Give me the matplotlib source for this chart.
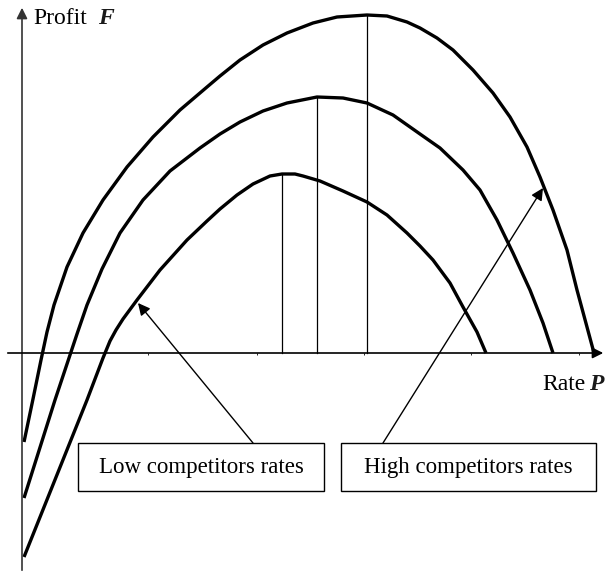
import matplotlib.pyplot as plt
from matplotlib.patches import Rectangle

plt.rcParams['font.family'] = ['Liberation Serif', 'DejaVu Serif']

# Curvas de beneficio (tasa P, beneficio F)
rate_high = [2, 11, 19, 25, 32, 45, 61, 81, 105, 131, 158, 185, 198, 218, 241, 265, 291,
             315, 345, 365, 385, 398, 415, 431, 451, 471, 488, 505, 518, 531, 545, 555,
             565, 572]
profit_high = [-89, -46, -7, 21, 48, 86, 120, 153, 186, 216, 243, 266, 277, 293, 308, 320,
               330, 336, 338, 337, 331, 325, 315, 303, 283, 260, 236, 206, 176, 143, 103,
               63, 26, 0]

rate_mid = [2, 33, 48, 55, 65, 80, 98, 121, 148, 178, 198, 218, 241, 265, 295, 321, 345,
            371, 398, 418, 441, 458, 475, 491, 508, 521, 531]
profit_mid = [-145, -47, -2, 19, 48, 84, 120, 153, 182, 205, 219, 231, 242, 250, 256, 255,
              250, 238, 219, 205, 183, 163, 133, 100, 63, 30, 0]

rate_low = [2, 65, 81, 88, 94, 101, 115, 138, 165, 185, 198, 215, 231, 248, 260, 273, 281,
            298, 321, 345, 365, 385, 398, 411, 428, 441, 455, 464]
profit_low = [-204, -47, -5, 12, 23, 34, 53, 83, 113, 132, 144, 158, 169, 177, 179, 179,
              177, 172, 162, 151, 138, 120, 107, 93, 70, 46, 21, 0]

curvas = [(rate_high, profit_high), (rate_mid, profit_mid), (rate_low, profit_low)]
x_ticks = [126, 235, 342, 449, 557]

fig = plt.figure(figsize=(6.06, 5.73), dpi=100)
ax = fig.add_axes([0, 0, 1, 1])
ax.set_xlim(-22, 584)
ax.set_ylim(-220, 353)
ax.axis('off')

# Ejes con flechas
ax.annotate('', xy=(0, 348), xytext=(0, -220),
            arrowprops=dict(arrowstyle='-|>', color='#333333', lw=1.2, mutation_scale=16))
ax.annotate('', xy=(584, 0), xytext=(-17, 0),
            arrowprops=dict(arrowstyle='-|>', color='black', lw=1.2, mutation_scale=16))
ax.vlines(x_ticks, -2, 0, color='black', lw=0.6)

# Curvas y lineas verticales en el maximo
for r, p in curvas:
    ax.plot(r, p, color='black', lw=2.4, solid_capstyle='butt', solid_joinstyle='round')
    i = p.index(max(p))
    ax.plot([r[i], r[i]], [0, p[i]], color='black', lw=0.9)

# Etiquetas de los ejes
ax.text(11, 334, 'Profit', fontsize=17, ha='left', va='center')
ax.text(76, 335, 'F', fontsize=17, ha='left', va='center', fontweight='bold',
        fontstyle='italic', color='#1a1a1a')
ax.text(564, -32, 'Rate', fontsize=17, ha='right', va='center')
ax.text(567, -32, 'P', fontsize=17, ha='left', va='center', fontweight='bold',
        fontstyle='italic', color='#1a1a1a')

# Cajas de texto
ax.add_patch(Rectangle((56, -138), 246, 48, fill=False, lw=1, ec='black'))
ax.add_patch(Rectangle((319, -138), 255, 48, fill=False, lw=1, ec='black'))
ax.text(179, -114, 'Low competitors rates', fontsize=16.5, ha='center', va='center')
ax.text(446, -114, 'High competitors rates', fontsize=16.5, ha='center', va='center')

# Flechas hacia las curvas
ax.annotate('', xy=(116, 50), xytext=(231, -90),
            arrowprops=dict(arrowstyle='-|>', color='black', lw=1, mutation_scale=18,
                            shrinkA=0, shrinkB=0))
ax.annotate('', xy=(521, 165), xytext=(361, -90),
            arrowprops=dict(arrowstyle='-|>', color='black', lw=1, mutation_scale=18,
                            shrinkA=0, shrinkB=0))

plt.savefig('out.png', dpi=100)
plt.close()
